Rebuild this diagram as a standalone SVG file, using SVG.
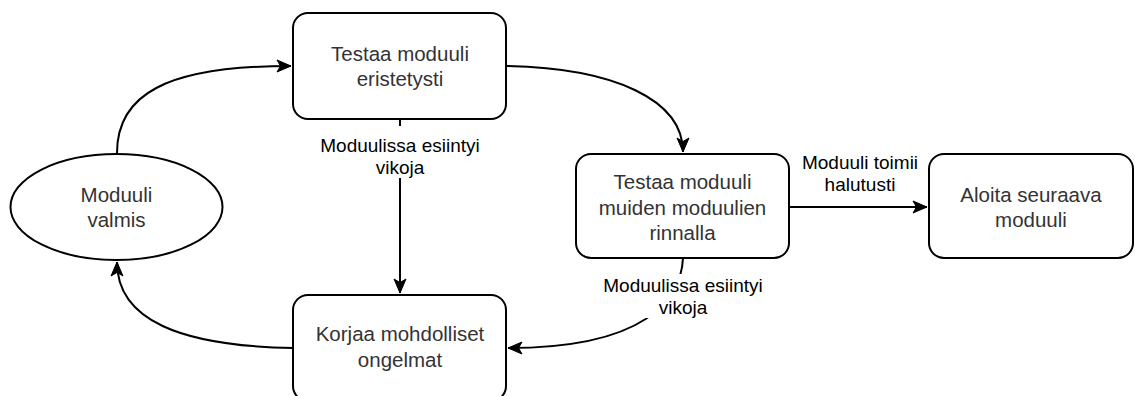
<svg xmlns="http://www.w3.org/2000/svg" width="1135" height="396" viewBox="0 0 1135 396">
<defs>
<style>
.node{fill:#fff;stroke:#000;stroke-width:2}
.nt{font-family:"Liberation Sans",Arial,sans-serif;font-size:20.5px;fill:#333;text-anchor:middle}
.et{font-family:"Liberation Sans",Arial,sans-serif;font-size:19px;fill:#000;text-anchor:middle}
.edge{fill:none;stroke:#000;stroke-width:2}
.lbg{fill:#fff;stroke:none}
</style>
<marker id="arr" markerUnits="userSpaceOnUse" markerWidth="16" markerHeight="16" viewBox="0 0 16 16" refX="15" refY="8" orient="auto">
<path d="M1,2 L15,8 L1,14 L4.5,8 Z" fill="#000" stroke="#000" stroke-width="1"/>
</marker>
</defs>
<rect width="1135" height="396" fill="#fff"/>
<g id="connectors">
<path class="edge" d="M117,153 C117,95 165,66 291,66" marker-end="url(#arr)"/>
<path class="edge" d="M506,66 C615,68 683,100 683,152" marker-end="url(#arr)"/>
<path class="edge" d="M400,119 L400,293" marker-end="url(#arr)"/>
<path class="edge" d="M683,258 C681,300 645,348 508,348" marker-end="url(#arr)"/>
<path class="edge" d="M293,348 C180,346 117,320 117,262" marker-end="url(#arr)"/>
<path class="edge" d="M789,207 L927,207" marker-end="url(#arr)"/>
<g id="label-1">
<rect class="lbg" x="319" y="126" width="163" height="52"/>
<text class="et" x="400" y="152">Moduulissa esiintyi</text>
<text class="et" x="400" y="174">vikoja</text>
</g>
<g id="label-2">
<rect class="lbg" x="601" y="274" width="164" height="44"/>
<text class="et" x="683" y="292">Moduulissa esiintyi</text>
<text class="et" x="683" y="313.5">vikoja</text>
</g>
<g id="label-3">
<rect class="lbg" x="801" y="150" width="118" height="47"/>
<text class="et" x="860" y="169">Moduuli toimii</text>
<text class="et" x="860" y="191">halutusti</text>
</g>
</g>
<g id="node-test-isolated">
<rect class="node" x="293" y="13" width="213" height="106" rx="15"/>
<text class="nt" x="400" y="60.5">Testaa moduuli</text>
<text class="nt" x="400" y="86">eristetysti</text>
</g>
<g id="node-module-ready">
<ellipse class="node" cx="116.5" cy="207" rx="106" ry="53"/>
<text class="nt" x="116.5" y="201.5">Moduuli</text>
<text class="nt" x="116.5" y="227">valmis</text>
</g>
<g id="node-test-together">
<rect class="node" x="576" y="154" width="213" height="104" rx="15"/>
<text class="nt" x="682.5" y="189">Testaa moduuli</text>
<text class="nt" x="682.5" y="214.5">muiden moduulien</text>
<text class="nt" x="682.5" y="240">rinnalla</text>
</g>
<g id="node-next">
<rect class="node" x="929" y="154" width="204" height="104" rx="15"/>
<text class="nt" x="1031" y="201.5">Aloita seuraava</text>
<text class="nt" x="1031" y="227">moduuli</text>
</g>
<g id="node-fix">
<rect class="node" x="293" y="295" width="213" height="106" rx="15"/>
<text class="nt" x="400" y="341">Korjaa mohdolliset</text>
<text class="nt" x="400" y="366.5">ongelmat</text>
</g>
</svg>
